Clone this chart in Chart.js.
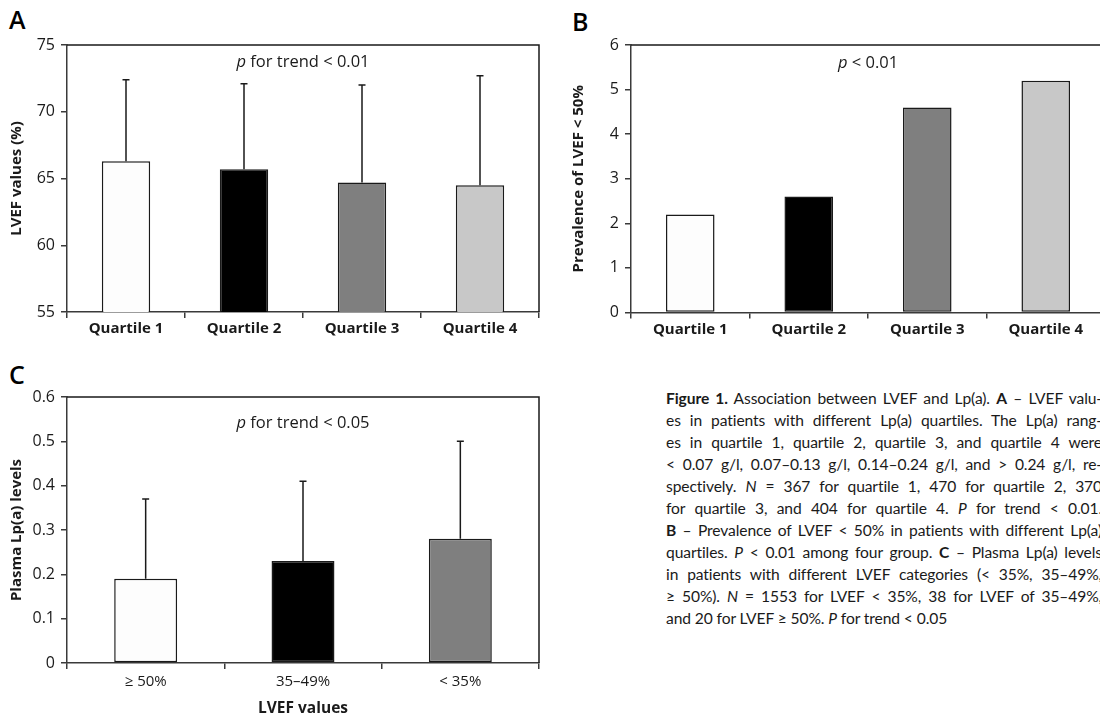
<!DOCTYPE html>
<html><head><meta charset="utf-8">
<script src="https://cdn.jsdelivr.net/npm/chart.js@4"></script>
<style>
html,body{margin:0;padding:0;width:1100px;height:718px;overflow:hidden;background:#fff;}
.box{position:absolute;}
.letter{position:absolute;font-family:"Open Sans";font-weight:600;font-size:25px;color:#000;line-height:1;}
#caption{position:absolute;left:666px;top:387px;width:436px;font-family:Lato;font-size:15.6px;letter-spacing:-0.1px;color:#1a1a1a;line-height:22px;}
#caption div{white-space:nowrap;text-align:justify;text-align-last:justify;}
#caption div.last{text-align-last:left;}
</style>
</head><body>
<div class="letter" style="left:9px;top:7px;">A</div>
<div class="letter" style="left:572px;top:9px;">B</div>
<div class="letter" style="left:9px;top:362px;">C</div>
<div class="box" style="left:0;top:0;width:560px;height:345px;"><canvas id="cA"></canvas></div>
<div class="box" style="left:560px;top:0;width:560px;height:345px;"><canvas id="cB"></canvas></div>
<div class="box" style="left:0;top:340px;width:560px;height:378px;"><canvas id="cC"></canvas></div>
<div id="caption">
<div><b>Figure 1.</b> Association between LVEF and Lp(a). <b>A</b> – LVEF valu-</div>
<div>es in patients with different Lp(a) quartiles. The Lp(a) rang-</div>
<div>es in quartile 1, quartile 2, quartile 3, and quartile 4 were</div>
<div>&lt; 0.07 g/l, 0.07–0.13 g/l, 0.14–0.24 g/l, and &gt; 0.24 g/l, re-</div>
<div>spectively. <i>N</i> = 367 for quartile 1, 470 for quartile 2, 370</div>
<div>for quartile 3, and 404 for quartile 4. <i>P</i> for trend &lt; 0.01.</div>
<div><b>B</b> – Prevalence of LVEF &lt; 50% in patients with different Lp(a)</div>
<div>quartiles. <i>P</i> &lt; 0.01 among four group. <b>C</b> – Plasma Lp(a) levels</div>
<div>in patients with different LVEF categories (&lt; 35%, 35–49%,</div>
<div>≥ 50%). <i>N</i> = 1553 for LVEF &lt; 35%, 38 for LVEF of 35–49%,</div>
<div class="last">and 20 for LVEF ≥ 50%. <i>P</i> for trend &lt; 0.05</div>
</div>
<script>
// ---- data ----
const quartiles = ["Quartile 1", "Quartile 2", "Quartile 3", "Quartile 4"];
const lvefMeans = [66.3, 65.7, 64.7, 64.5];
const lvefUpper = [72.4, 72.1, 72.0, 72.7];
const lvefTicks = [55, 60, 65, 70, 75];

const prevalence = [2.2, 2.6, 4.6, 5.2];
const prevTicks = [0, 1, 2, 3, 4, 5, 6];

const lvefCats = ["≥ 50%", "35–49%", "< 35%"];
const lpaMeans = [0.19, 0.23, 0.28];
const lpaUpper = [0.37, 0.41, 0.50];
const lpaTicks = [0, 0.1, 0.2, 0.3, 0.4, 0.5, 0.6];
const lpaTickLabels = ["0", "0.1", "0.2", "0.3", "0.4", "0.5", "0.6"];

const colors4 = ["#fdfdfd", "#000000", "#7f7f7f", "#c8c8c8"];
const FONT = "Open Sans";
const AX = "#3a3a3a";

const framePlugin = {
  id: "frame",
  afterDraw(chart) {
    const a = chart.chartArea, c = chart.ctx;
    c.save();
    c.strokeStyle = "#1a1a1a"; c.lineWidth = 1.5;
    c.beginPath();
    c.moveTo(a.left, a.top); c.lineTo(a.right, a.top); c.lineTo(a.right, a.bottom);
    c.stroke();
    c.restore();
  }
};
function errPlugin(upper) {
  return {
    id: "err",
    afterDatasetsDraw(chart) {
      const c = chart.ctx, ys = chart.scales.y;
      const meta = chart.getDatasetMeta(0);
      c.save();
      c.strokeStyle = "#1a1a1a"; c.lineWidth = 1.5;
      meta.data.forEach((bar, i) => {
        const yTop = ys.getPixelForValue(upper[i]);
        c.beginPath();
        c.moveTo(bar.x, bar.y); c.lineTo(bar.x, yTop);
        c.moveTo(bar.x - 3.5, yTop); c.lineTo(bar.x + 3.5, yTop);
        c.stroke();
      });
      c.restore();
    }
  };
}
function notePlugin(italicPart, rest, dy) {
  return {
    id: "note",
    afterDraw(chart) {
      const a = chart.chartArea, c = chart.ctx;
      c.save();
      c.fillStyle = "#1a1a1a"; c.textBaseline = "middle";
      c.font = "italic 16.5px '" + FONT + "'";
      const w1 = c.measureText(italicPart).width;
      c.font = "16.5px '" + FONT + "'";
      const w2 = c.measureText(rest).width;
      const x0 = (a.left + a.right) / 2 - (w1 + w2) / 2;
      c.font = "italic 16.5px '" + FONT + "'";
      c.fillText(italicPart, x0, a.top + dy);
      c.font = "16.5px '" + FONT + "'";
      c.fillText(rest, x0 + w1, a.top + dy);
      c.restore();
    }
  };
}

function makeChart(id, o) {
  new Chart(document.getElementById(id), {
    type: "bar",
    data: {
      labels: o.labels,
      datasets: [{
        data: o.values,
        backgroundColor: o.colors,
        borderColor: "#1a1a1a",
        borderWidth: 1.5,
        borderSkipped: false,
        categoryPercentage: 1,
        barPercentage: o.barPct
      }]
    },
    options: {
      responsive: true, maintainAspectRatio: false, animation: false,
      layout: { padding: { top: o.padTop, right: o.padRight, left: 0, bottom: 0 } },
      plugins: { legend: { display: false }, tooltip: { enabled: false } },
      scales: {
        x: {
          offset: true,
          grid: { offset: true, drawOnChartArea: false, tickLength: 6, color: AX, lineWidth: 1.5 },
          border: { display: true, color: AX, width: 1.5 },
          ticks: { font: { family: FONT, size: 15, weight: o.xBold ? "bold" : "normal" }, color: "#1a1a1a", padding: o.xPad, maxRotation: 0 },
          title: o.xTitle ? { display: true, text: o.xTitle, font: { family: FONT, size: 15.5, weight: "bold" }, color: "#1a1a1a", padding: { top: 0, bottom: 0 } } : { display: false },
          afterFit: s => { s.height = o.xH; }
        },
        y: {
          min: o.ticks[0], max: o.ticks[o.ticks.length - 1],
          afterBuildTicks: s => { s.ticks = o.ticks.map(v => ({ value: v })); },
          grid: { drawOnChartArea: false, tickLength: 6, color: AX, lineWidth: 1.5 },
          border: { display: true, color: AX, width: 1.5 },
          ticks: { font: { family: FONT, size: 16 }, color: "#1a1a1a", padding: 6,
                   callback: (v) => o.tickLabels ? o.tickLabels[o.ticks.indexOf(v)] : String(v) },
          title: { display: true, text: o.yTitle, font: { family: FONT, size: 15, weight: "bold" }, color: "#1a1a1a", padding: { top: o.yTitlePad, bottom: 0 } },
          afterFit: s => { s.width = o.yW; }
        }
      }
    },
    plugins: o.plugins
  });
}

makeChart("cA", {
  labels: quartiles, values: lvefMeans, colors: colors4, barPct: 0.41,
  padTop: 45, padRight: 21, xH: 33, yW: 67, xPad: 2, xBold: true,
  ticks: lvefTicks, yTitle: "LVEF values (%)", yTitlePad: 8,
  plugins: [framePlugin, errPlugin(lvefUpper), notePlugin("p", " for trend < 0.01", 17)]
});
makeChart("cB", {
  labels: quartiles, values: prevalence, colors: colors4, barPct: 0.41,
  padTop: 45, padRight: 15, xH: 32.5, yW: 71, xPad: 2, xBold: true,
  ticks: prevTicks, yTitle: "Prevalence of LVEF < 50%", yTitlePad: 10,
  plugins: [framePlugin, notePlugin("p", " < 0.01", 18)]
});
makeChart("cC", {
  labels: lvefCats, values: lpaMeans, colors: colors4.slice(0, 3), barPct: 0.40,
  padTop: 57, padRight: 21, xH: 55, yW: 67, xPad: 4, xBold: false, xTitle: "LVEF values",
  ticks: lpaTicks, tickLabels: lpaTickLabels, yTitle: "Plasma Lp(a) levels", yTitlePad: 8,
  plugins: [framePlugin, errPlugin(lpaUpper), notePlugin("p", " for trend < 0.05", 26)]
});
</script>
</body></html>
